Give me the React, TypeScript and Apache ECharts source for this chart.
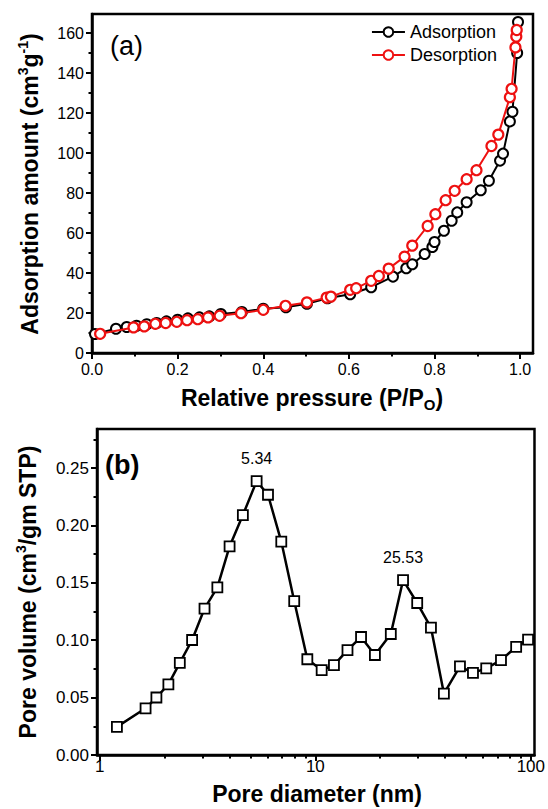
import React, { useEffect, useRef } from "react";
import * as echarts from "echarts";

// ---------- data ----------
const adsorptionP = [0.007, 0.056, 0.081, 0.104, 0.128, 0.151, 0.174, 0.2, 0.224, 0.251, 0.274, 0.301, 0.35, 0.4, 0.453, 0.502, 0.55, 0.603, 0.652, 0.703, 0.734, 0.748, 0.777, 0.795, 0.8, 0.822, 0.84, 0.853, 0.875, 0.908, 0.927, 0.953, 0.96, 0.976, 0.982, 0.993, 0.995];
const adsorptionV = [9.5, 12.1, 13.0, 13.6, 14.4, 15.0, 15.8, 16.6, 17.3, 17.8, 18.3, 19.5, 20.5, 22.1, 22.9, 24.6, 27.4, 29.4, 32.9, 38.2, 42.4, 44.4, 49.5, 53.0, 55.5, 61.1, 66.1, 70.3, 75.4, 81.4, 86.1, 96.2, 99.7, 115.8, 120.6, 150.0, 165.5];
const desorptionP = [0.019, 0.097, 0.122, 0.148, 0.172, 0.198, 0.222, 0.247, 0.271, 0.298, 0.348, 0.4, 0.452, 0.502, 0.548, 0.558, 0.603, 0.617, 0.652, 0.67, 0.693, 0.73, 0.748, 0.784, 0.802, 0.826, 0.847, 0.875, 0.898, 0.933, 0.949, 0.976, 0.98, 0.989, 0.991, 0.992];
const desorptionV = [9.6, 12.8, 13.3, 14.6, 15.0, 15.6, 16.4, 16.9, 17.8, 18.6, 19.9, 21.6, 23.6, 25.3, 27.7, 28.2, 31.6, 32.4, 36.1, 38.5, 42.2, 48.2, 53.7, 63.5, 69.4, 76.4, 81.1, 86.9, 91.4, 103.5, 109.2, 127.9, 132.1, 152.8, 158.2, 161.5];

const poreDiameter = [1.2, 1.63, 1.83, 2.08, 2.35, 2.68, 3.06, 3.51, 4.0, 4.61, 5.34, 6.03, 6.95, 7.98, 9.18, 10.7, 12.2, 14.1, 16.3, 18.9, 22.4, 25.53, 29.7, 34.4, 39.5, 46.9, 53.9, 62.1, 72.7, 85.5, 97.1];
const poreVolume = [0.0245, 0.0407, 0.0501, 0.0615, 0.0803, 0.1002, 0.1276, 0.1461, 0.1817, 0.209, 0.2386, 0.2267, 0.1859, 0.1341, 0.0834, 0.074, 0.0783, 0.0914, 0.1028, 0.0871, 0.1054, 0.1523, 0.1324, 0.111, 0.0535, 0.0772, 0.0715, 0.0755, 0.0826, 0.0942, 0.1005];
const peakDiameters = [5.34, 25.53];

const isoXTicks = [0, 0.2, 0.4, 0.6, 0.8, 1.0];
const isoXMinor = [0.1, 0.3, 0.5, 0.7, 0.9];
const isoYTicks = [0, 20, 40, 60, 80, 100, 120, 140, 160];
const isoYMinor = [10, 30, 50, 70, 90, 110, 130, 150];
const poreXTicks = [1, 10, 100];
const poreXMinor = [2, 3, 4, 5, 6, 7, 8, 9, 20, 30, 40, 50, 60, 70, 80, 90];
const poreYTicks = [0, 0.05, 0.1, 0.15, 0.2, 0.25];
const poreYMinor = [0.025, 0.075, 0.125, 0.175, 0.225, 0.275];

const FONT = "'Liberation Sans', Arial, Helvetica, sans-serif";
const RED = "#ee1111";

function majorAxis(extra: any, ticks: number[], fmt: (v: number) => string, fontSize: number, margin: number) {
  return {
    splitLine: { show: false },
    axisLine: { show: true, onZero: false, lineStyle: { color: "#000", width: 2.5 } },
    axisTick: { show: true, customValues: ticks, length: 6, lineStyle: { color: "#000", width: 2 } },
    axisLabel: { customValues: ticks, formatter: fmt, fontSize, color: "#000", fontFamily: FONT, margin },
    ...extra,
  };
}
function minorAxis(extra: any, ticks: number[]) {
  return {
    splitLine: { show: false },
    axisLine: { show: false, onZero: false },
    axisTick: { show: true, customValues: ticks, length: 3.5, lineStyle: { color: "#000", width: 2 } },
    axisLabel: { show: false },
    ...extra,
  };
}

export default function App() {
  const ref = useRef<HTMLDivElement>(null);
  useEffect(() => {
    if (!ref.current) return;
    const chart = echarts.init(ref.current, null, { renderer: "svg" });
    const titleRich = (size: number) => ({
      t: { fontSize: size, fontWeight: "bold", fontFamily: FONT, fill: "#000", color: "#000", lineHeight: 28 },
      s: { fontSize: 14, fontWeight: "bold", fontFamily: FONT, fill: "#000", color: "#000", verticalAlign: "top" },
      b: { fontSize: 15, fontWeight: "bold", fontFamily: FONT, fill: "#000", color: "#000", verticalAlign: "bottom" },
    });
    const centered = { fill: "#000", textAlign: "center", align: "center", textVerticalAlign: "middle", verticalAlign: "middle" };
    const option: any = {
      animation: false,
      backgroundColor: "#fff",
      grid: [
        { left: 92, top: 14, width: 441, height: 339, show: true, borderColor: "#000", borderWidth: 2.5, backgroundColor: "transparent" },
        { left: 97, top: 429, width: 439, height: 326, show: true, borderColor: "#000", borderWidth: 2.5, backgroundColor: "transparent" },
      ],
      legend: {
        orient: "vertical",
        right: 51,
        top: 23,
        padding: 0,
        itemGap: 5,
        itemWidth: 33,
        itemHeight: 12,
        textStyle: { fontSize: 18, color: "#000", fontFamily: FONT },
        data: ["Adsorption", "Desorption"],
      },
      xAxis: [
        majorAxis({ gridIndex: 0, type: "value", min: 0, max: 1.03, position: "bottom" }, isoXTicks, (v: number) => v.toFixed(1), 16, 8),
        minorAxis({ gridIndex: 0, type: "value", min: 0, max: 1.03, position: "bottom" }, isoXMinor),
        majorAxis({ gridIndex: 1, type: "log", logBase: 10, min: 0.97, max: 104, position: "bottom" }, poreXTicks, (v: number) => String(Math.round(v)), 17, 3),
        minorAxis({ gridIndex: 1, type: "log", logBase: 10, min: 0.97, max: 104, position: "bottom" }, poreXMinor),
      ],
      yAxis: [
        majorAxis({ gridIndex: 0, type: "value", min: 0, max: 169.5, position: "left" }, isoYTicks, (v: number) => String(Math.round(v)), 16, 8),
        minorAxis({ gridIndex: 0, type: "value", min: 0, max: 169.5, position: "left" }, isoYMinor),
        majorAxis({ gridIndex: 1, type: "value", min: 0, max: 0.284, position: "left" }, poreYTicks, (v: number) => v.toFixed(2), 17, 8),
        minorAxis({ gridIndex: 1, type: "value", min: 0, max: 0.284, position: "left" }, poreYMinor),
      ],
      series: [
        {
          name: "Adsorption",
          type: "line",
          xAxisIndex: 0,
          yAxisIndex: 0,
          data: adsorptionP.map((p, i) => [p, adsorptionV[i]]),
          symbol: "circle",
          symbolSize: 10,
          itemStyle: { color: "#fff", borderColor: "#000", borderWidth: 2 },
          lineStyle: { color: "#000", width: 2 },
          z: 2,
        },
        {
          name: "Desorption",
          type: "line",
          xAxisIndex: 0,
          yAxisIndex: 0,
          data: desorptionP.map((p, i) => [p, desorptionV[i]]),
          symbol: "circle",
          symbolSize: 10,
          itemStyle: { color: "#fff", borderColor: RED, borderWidth: 2.2 },
          lineStyle: { color: RED, width: 2 },
          z: 3,
        },
        {
          name: "Pore",
          type: "line",
          xAxisIndex: 2,
          yAxisIndex: 2,
          data: poreDiameter.map((d, i) =>
            peakDiameters.includes(d)
              ? {
                  value: [d, poreVolume[i]],
                  label: { show: true, position: "top", distance: 9, formatter: String(d), fontSize: 16, color: "#000", fontFamily: FONT },
                }
              : [d, poreVolume[i]]
          ),
          symbol: "rect",
          symbolSize: 10,
          itemStyle: { color: "#fff", borderColor: "#000", borderWidth: 1.8 },
          lineStyle: { color: "#000", width: 2.5 },
          z: 2,
        },
      ],
      graphic: [
        { type: "text", x: 110, y: 46, style: { text: "(a)", fontSize: 27, fontFamily: FONT, fill: "#000", textVerticalAlign: "middle", verticalAlign: "middle" } },
        { type: "text", x: 105, y: 465, style: { text: "(b)", fontSize: 27, fontWeight: "bold", fontFamily: FONT, fill: "#000", textVerticalAlign: "middle", verticalAlign: "middle" } },
        {
          type: "text", x: 30, y: 184, rotation: Math.PI / 2,
          style: { text: "{t|Adsorption amount (cm}{s|3}{t|g}{s|-1}{t|)}", rich: titleRich(23), ...centered },
        },
        {
          type: "text", x: 312, y: 398,
          style: { text: "{t|Relative pressure (P/P}{b|O}{t|)}", rich: titleRich(23), ...centered },
        },
        {
          type: "text", x: 28, y: 592, rotation: Math.PI / 2,
          style: { text: "{t|Pore volume (cm}{s|3}{t|/gm STP)}", rich: titleRich(23), ...centered },
        },
        {
          type: "text", x: 317, y: 794,
          style: { text: "{t|Pore diameter (nm)}", rich: titleRich(23), ...centered },
        },
      ],
    };
    chart.setOption(option);
    return () => chart.dispose();
  }, []);
  return <div ref={ref} style={{ position: "fixed", left: 0, top: 0, width: 548, height: 809, background: "#fff" }} />;
}
